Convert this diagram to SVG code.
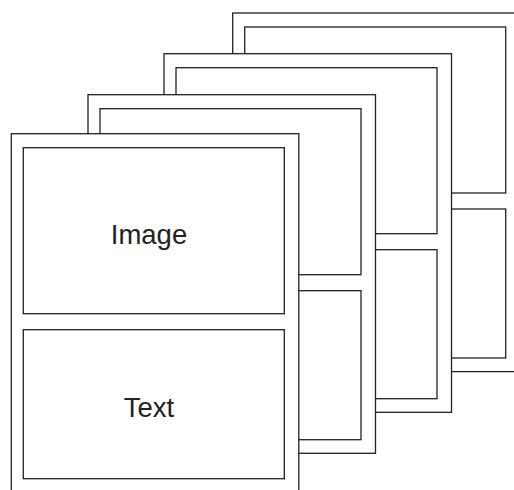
<svg xmlns="http://www.w3.org/2000/svg" width="514" height="490" viewBox="0 0 514 490">
  <style>
    .frame { fill: #ffffff; stroke: #222222; stroke-width: 1.3; }
    .panel { fill: none; stroke: #222222; stroke-width: 1.3; }
    .label { font-family: "Liberation Sans", Arial, sans-serif; font-size: 27.5px; fill: #222222; text-anchor: middle; dominant-baseline: central; }
  </style>
  <defs>
    <!-- one page: outer frame, image panel on top, text panel below -->
    <g id="page">
      <rect class="frame" x="0" y="0" width="287.5" height="358.6"/>
      <rect class="panel" x="12" y="14" width="261" height="166"/>
      <rect class="panel" x="12" y="196" width="261" height="149"/>
    </g>
  </defs>

  <!-- stack drawn back to front -->
  <g id="page4"><use href="#page" x="232.7" y="13"/></g>
  <g id="page3"><use href="#page" x="164" y="53.7"/></g>
  <g id="page2"><use href="#page" x="88" y="94.7"/></g>
  <g id="page1">
    <use href="#page" x="11.3" y="133.7"/>
    <text class="label" x="149" y="234">Image</text>
    <text class="label" x="149" y="407">Text</text>
  </g>
</svg>
